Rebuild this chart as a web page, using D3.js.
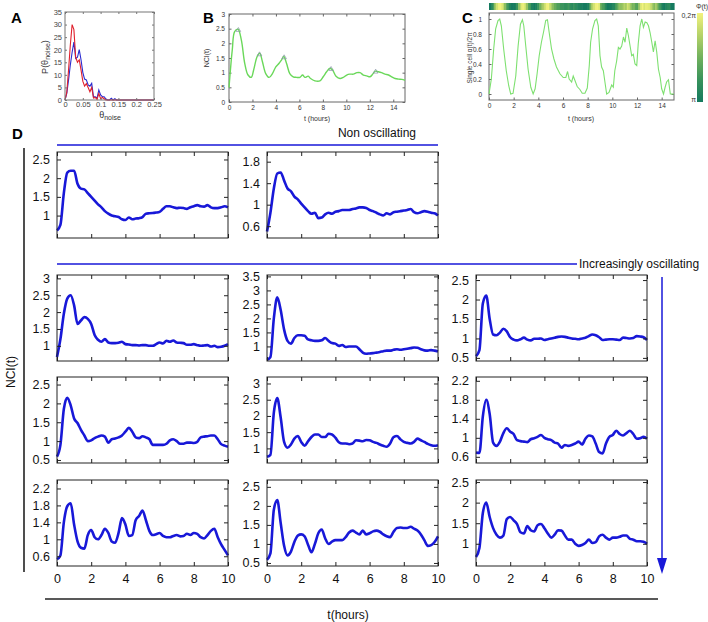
<!DOCTYPE html>
<html>
<head>
<meta charset="utf-8">
<script src="https://cdn.jsdelivr.net/npm/d3@7"></script>
<style>
  body { margin: 0; background: #fff; }
</style>
</head>
<body>
<div id="fig"></div>
<script>
//---------------------------------------------------------------------
// data
//---------------------------------------------------------------------

// A: distribution of theta_noise
var thetaA = [0,0.005,0.01,0.015,0.02,0.025,0.03,0.035,0.04,0.045,
  0.05,0.055,0.06,0.065,0.07,0.075,0.08,0.085,0.09,0.095,
  0.1,0.105,0.11,0.115,0.12,0.125,0.13,0.135,0.14,0.145,0.15,0.25];
var pRed = [0,3,12,22,30,28,17,15,16,12,
  7.5,5.5,6.5,5,3.3,5,0.8,1,0.2,2.6,
  0.5,1,0.5,0,0,0,0,0,0,0,0,0];
var pBlue = [0,2.6,8,14,19,23,16.5,17,20,16,
  11,8.3,8,6,5.5,6.6,1.3,1.3,0.7,4,
  2,1.3,1.3,0.4,0,0,0.7,0,0.5,0,0,0];
var ticksAx = [0,0.05,0.1,0.15,0.2,0.25];
var ticksAy = [0,5,10,15,20,25,30,35];

// B: population NCI(t)
var tB = [0,0.28,0.48,0.77,1.05,1.34,1.62,1.9,2.1,2.4,
  2.62,2.85,3.13,3.42,3.7,3.99,4.27,4.47,4.67,4.9,
  5.18,5.47,5.75,6.04,6.27,6.47,6.75,6.95,7.32,7.75,
  8.03,8.32,8.6,8.83,9.12,9.46,9.74,10.03,10.3,10.6,
  10.9,11.17,11.45,11.74,12.02,12.25,12.45,12.73,13.0,13.3,
  13.6,13.87,14.16,14.45,14.73,15];
var nciB = [0.49,1.78,2.4,2.48,2.12,1.32,0.92,0.84,1.09,1.55,
  1.66,1.37,0.97,0.84,0.97,1.2,1.32,1.43,1.55,1.32,
  0.97,0.86,0.84,0.84,0.92,0.84,0.88,0.8,0.72,0.72,
  0.86,1.03,1.15,1.09,0.88,0.8,0.84,0.92,0.95,0.95,
  1.0,1.0,0.92,0.89,0.86,0.95,1.05,1.03,1.0,0.95,
  0.92,0.86,0.8,0.78,0.77,0.74];
var peakTB = [0.8,2.6,4.7,8.7,12.5];
var peakVB = [2.45,1.62,1.52,1.12,1.03];
var ticksBx = [0,2,4,6,8,10,12,14];
var ticksBy = [0,0.5,1,1.5,2,2.5,3];

// C: single cell phase
var tC = [0,0.19,0.38,0.54,0.73,0.87,1.0,1.19,1.4,1.6,
  1.76,1.95,2.17,2.36,2.55,2.71,2.82,2.98,3.17,3.39,
  3.58,3.74,3.9,4.07,4.25,4.44,4.6,4.74,4.88,5.07,
  5.26,5.47,5.75,6.02,6.23,6.37,6.5,6.7,6.83,6.97,
  7.15,7.37,7.56,7.78,7.97,8.13,8.24,8.4,8.59,8.73,
  8.86,9.0,9.13,9.27,9.4,9.54,9.73,9.95,10.08,10.2,
  10.35,10.49,10.62,10.76,10.9,11.03,11.17,11.3,11.44,11.57,
  11.7,11.84,11.98,12.1,12.25,12.39,12.52,12.66,12.8,12.93,
  13.06,13.2,13.33,13.47,13.6,13.74,13.88,14.0,14.15,14.28,
  14.4,14.55,14.7,15];
var alphaC = [0,0.2,0.6,0.87,0.98,1.0,0.91,0.6,0.31,0.11,
  0,0.01,0.24,0.64,0.93,0.99,0.91,0.64,0.33,0.09,
  0,0.07,0.27,0.51,0.69,0.84,0.98,0.99,0.82,0.6,
  0.47,0.36,0.27,0.22,0.22,0.3,0.2,0.16,0.24,0.18,
  0.1,0.06,0.01,0.01,0.08,0.38,0.69,0.87,0.98,1.0,
  0.91,0.51,0.36,0.31,0.16,0,0.02,0.12,0.09,0.31,
  0.44,0.62,0.6,0.64,0.76,0.69,0.88,0.78,0.64,0.51,
  0.53,0.4,0.38,0.67,0.91,1.0,0.89,0.96,0.95,0.91,
  0.82,0.69,0.56,0.71,0.56,0.33,0.22,0.07,0,0.09,
  0.16,0.19,0,0];
var ticksCy = [0,0.2,0.4,0.6,0.8,1];

// D: NCI(t) for 11 noise levels, sampled every 0.2 h
var tD = [0,0.2,0.4,0.6,0.8,1.0,1.2,1.4,1.6,1.8,
  2.0,2.2,2.4,2.6,2.8,3.0,3.2,3.4,3.6,3.8,
  4.0,4.2,4.4,4.6,4.8,5.0,5.2,5.4,5.6,5.8,
  6.0,6.2,6.4,6.6,6.8,7.0,7.2,7.4,7.6,7.8,
  8.0,8.2,8.4,8.6,8.8,9.0,9.2,9.4,9.6,9.8,10.0];
var ncR1C1 = [0.6,0.75,1.6,2.15,2.2,2.2,1.85,1.72,1.7,1.6,
  1.5,1.4,1.3,1.22,1.12,1.05,1.0,0.98,0.96,0.9,
  0.88,0.95,0.9,0.92,0.93,0.96,1.05,1.06,1.07,1.08,
  1.1,1.18,1.25,1.25,1.22,1.2,1.21,1.2,1.18,1.22,
  1.25,1.28,1.25,1.24,1.28,1.22,1.2,1.2,1.22,1.25,1.22];
var ncR1C2 = [0.5,0.85,1.3,1.58,1.6,1.45,1.3,1.25,1.15,1.1,
  1.02,0.95,0.88,0.83,0.85,0.75,0.76,0.82,0.85,0.83,
  0.87,0.88,0.9,0.9,0.9,0.92,0.93,0.95,0.95,0.94,
  0.9,0.88,0.85,0.82,0.8,0.84,0.82,0.86,0.87,0.88,
  0.89,0.9,0.92,0.86,0.84,0.86,0.88,0.87,0.85,0.84,0.8];
var ncR2C1 = [0.67,1.2,1.95,2.4,2.5,2.2,1.65,1.75,1.85,1.8,
  1.65,1.32,1.18,1.12,1.2,1.1,1.08,1.08,1.09,1.12,
  1.05,1.04,1.02,1.02,1.01,1.02,1.02,1.0,1.0,1.05,
  1.1,1.07,1.15,1.12,1.16,1.1,1.09,1.08,1.03,1.03,
  1.05,1.02,1.0,1.01,1.02,0.98,1.0,0.96,0.97,1.0,1.05];
var ncR2C2 = [0.52,0.62,2.0,2.75,2.3,1.6,1.2,1.1,1.3,1.4,
  1.4,1.38,1.25,1.22,1.2,1.2,1.22,1.3,1.2,1.12,
  1.1,1.02,1.05,0.98,1.0,1.0,1.0,0.9,0.78,0.74,
  0.75,0.76,0.78,0.8,0.83,0.85,0.85,0.88,0.9,0.88,
  0.9,0.92,0.94,0.96,0.95,0.9,0.86,0.85,0.87,0.85,0.82];
var ncR2C3 = [0.54,0.7,1.9,2.1,1.5,1.1,1.08,1.15,1.25,1.18,
  1.03,0.97,0.95,0.98,1.02,0.97,0.95,0.99,0.99,1.0,
  0.96,0.98,1.0,1.02,1.04,1.05,1.04,1.02,1.0,0.99,
  0.98,1.0,1.02,1.06,1.1,1.08,1.03,0.96,0.97,0.98,
  0.98,0.97,0.96,1.02,1.01,1.0,1.01,1.06,1.05,1.03,0.96];
var ncR3C1 = [0.59,0.9,1.85,2.15,1.95,1.6,1.48,1.3,1.15,1.0,
  1.02,1.08,1.12,1.15,1.12,0.96,1.05,1.07,1.1,1.15,
  1.25,1.35,1.25,1.1,1.08,1.13,1.1,1.05,0.9,0.9,
  0.9,0.9,0.93,1.02,1.05,1.0,0.93,0.93,0.96,0.96,
  0.95,0.98,1.1,1.12,1.13,1.15,1.15,1.05,0.92,0.88,0.85];
var ncR3C2 = [0.74,0.8,2.1,2.55,1.95,1.2,1.02,1.12,1.3,1.38,
  1.2,1.08,1.22,1.35,1.43,1.43,1.35,1.35,1.45,1.43,
  1.33,1.19,1.15,1.15,1.13,1.15,1.25,1.24,1.22,1.26,
  1.25,1.2,1.17,1.12,1.08,1.05,1.15,1.35,1.38,1.28,
  1.2,1.17,1.15,1.2,1.3,1.25,1.2,1.14,1.1,1.08,1.1];
var ncR3C3 = [0.69,0.68,1.45,1.8,1.5,0.9,0.83,0.92,1.1,1.2,
  1.13,1.08,0.95,0.93,0.92,0.91,0.97,0.99,1.02,1.06,
  1.0,0.97,0.95,0.9,0.88,0.79,0.85,0.83,0.85,0.88,
  0.92,0.86,0.98,1.05,1.03,0.88,0.7,0.67,0.88,1.02,
  1.06,1.15,1.08,1.05,1.1,1.15,1.08,0.98,0.99,1.02,0.98];
var ncR4C1 = [0.53,0.62,1.4,1.78,1.85,1.35,0.95,0.8,0.78,1.1,
  1.22,1.05,1.0,1.1,1.25,1.15,0.95,0.92,1.15,1.5,
  1.35,1.08,1.1,1.45,1.55,1.68,1.45,1.2,1.1,1.12,
  1.15,1.08,1.05,1.05,1.08,1.1,1.07,1.08,1.13,1.1,
  1.15,1.13,1.05,1.02,1.1,1.2,1.25,1.05,0.88,0.75,0.62];
var ncR4C2 = [0.58,0.75,1.9,2.15,1.55,0.95,0.7,0.8,1.05,1.22,
  1.25,1.2,0.98,0.78,1.0,1.28,1.38,1.15,1.0,1.06,
  1.1,1.1,1.1,1.18,1.3,1.35,1.3,1.25,1.35,1.25,
  1.28,1.33,1.35,1.32,1.25,1.2,1.18,1.32,1.42,1.43,
  1.42,1.42,1.45,1.4,1.35,1.25,1.1,0.95,0.97,1.05,1.2];
var ncR4C3 = [0.68,0.9,1.75,2.0,1.65,1.38,1.22,1.15,1.2,1.6,
  1.65,1.57,1.48,1.28,1.25,1.43,1.33,1.3,1.45,1.48,
  1.38,1.25,1.15,1.22,1.33,1.32,1.2,1.1,1.1,1.0,
  0.95,0.97,1.02,1.1,1.02,1.04,1.18,1.22,1.15,1.1,
  1.15,1.15,1.17,1.2,1.2,1.12,1.1,1.06,1.06,1.05,1.0];

// y ranges and tick labels of each D panel, row by row
var dDomains = [
  [[0.4,2.7],[0.38,1.98]],
  [[0.55,3.1],[0.48,3.55],[0.42,2.63]],
  [[0.42,2.7],[0.55,3.2],[0.47,2.28]],
  [[0.37,2.4],[0.42,2.68],[0.46,2.55]]
];
var dTicks = [
  [[1,1.5,2,2.5],[0.6,1,1.4,1.8]],
  [[1,1.5,2,2.5,3],[1,1.5,2,2.5,3,3.5],[0.5,1,1.5,2,2.5]],
  [[0.5,1,1.5,2,2.5],[1,1.5,2,2.5,3],[0.6,1,1.4,1.8,2.2]],
  [[0.6,1,1.4,1.8,2.2],[0.5,1,1.5,2,2.5],[1,1.5,2,2.5]]
];
var ticksDx = [0,2,4,6,8,10];

//---------------------------------------------------------------------
// drawing
//---------------------------------------------------------------------
var FONT = "'Liberation Sans', Arial, Helvetica, sans-serif";
var BLUE = "#1818d8";
var svg = d3.select("#fig").append("svg")
    .attr("width", 708).attr("height", 622)
    .attr("font-family", FONT);

function boxAxes(sx, sy, xt, yt, o) {
  var L = sx.range()[0], R = sx.range()[1], B = sy.range()[0], T = sy.range()[1];
  var g = svg.append("g");
  var none = function() { return ""; };
  var axes = [
    g.append("g").attr("transform", "translate(0," + B + ")")
      .call(d3.axisBottom(sx).tickValues(xt).tickSize(-o.tk).tickPadding(o.xpad).tickFormat(o.xfmt || none)),
    g.append("g").attr("transform", "translate(0," + T + ")")
      .call(d3.axisTop(sx).tickValues(xt).tickSize(-o.tk).tickFormat(none)),
    g.append("g").attr("transform", "translate(" + L + ",0)")
      .call(d3.axisLeft(sy).tickValues(yt).tickSize(-o.tk).tickPadding(o.ypad).tickFormat(o.yfmt || none)),
    g.append("g").attr("transform", "translate(" + R + ",0)")
      .call(d3.axisRight(sy).tickValues(yt).tickSize(-o.tk).tickFormat(none))
  ];
  axes.forEach(function(a) {
    a.attr("font-family", FONT).attr("font-size", o.fs);
    a.select(".domain").remove();
    a.selectAll(".tick line").attr("stroke", o.col);
    a.selectAll(".tick text").attr("fill", o.tcol);
  });
  g.append("rect").attr("x", L).attr("y", T)
    .attr("width", R - L).attr("height", B - T)
    .attr("fill", "none").attr("stroke", o.col).attr("stroke-width", o.sw || 1);
  return g;
}

function panelLetter(s, x, y) {
  svg.append("text").attr("x", x).attr("y", y)
    .attr("font-size", 15).attr("font-weight", "bold").text(s);
}

// ---------------- A ----------------
var ax = d3.scaleLinear().domain([0, 0.25]).range([65, 154]);
var ay = d3.scaleLinear().domain([0, 35]).range([100, 12]);
var lineA = d3.line().x(function(d) { return ax(d[0]); }).y(function(d) { return ay(d[1]); });
svg.append("path").datum(d3.zip(thetaA, pBlue)).attr("d", lineA)
  .attr("fill", "none").attr("stroke", "#2b2bd0").attr("stroke-width", 1.1);
svg.append("path").datum(d3.zip(thetaA, pRed)).attr("d", lineA)
  .attr("fill", "none").attr("stroke", "#e0202c").attr("stroke-width", 1.1);
boxAxes(ax, ay, ticksAx, ticksAy, {tk: 2, fs: 7.5, xpad: 2, ypad: 3, col: "#777", tcol: "#444",
  xfmt: function(d) { return String(d); }, yfmt: function(d) { return String(d); }});
panelLetter("A", 11, 23);
var aLab = svg.append("text").attr("transform", "translate(48,57) rotate(-90)")
  .attr("text-anchor", "middle").attr("font-size", 9).attr("fill", "#333");
aLab.append("tspan").text("P(\u03b8");
aLab.append("tspan").attr("font-size", 7).attr("dy", 2).text("noise");
aLab.append("tspan").attr("dy", -2).text(")");
var aX = svg.append("text").attr("x", 110).attr("y", 118)
  .attr("text-anchor", "middle").attr("font-size", 9).attr("fill", "#333");
aX.append("tspan").text("\u03b8");
aX.append("tspan").attr("font-size", 7).attr("dy", 2).text("noise");

// ---------------- B ----------------
var bx = d3.scaleLinear().domain([0, 15]).range([229, 405]);
var by = d3.scaleLinear().domain([0, 3]).range([102, 14]);
boxAxes(bx, by, ticksBx, ticksBy, {tk: 2.5, fs: 6.5, xpad: 3, ypad: 4, col: "#666", tcol: "#333",
  xfmt: function(d) { return String(d); }, yfmt: function(d) { return String(d); }});
svg.append("path").datum(d3.zip(tB, nciB))
  .attr("d", d3.line().curve(d3.curveCatmullRom)
    .x(function(d) { return bx(d[0]); }).y(function(d) { return by(d[1]); }))
  .attr("fill", "none").attr("stroke", "#6ad85a").attr("stroke-width", 1.4);
svg.append("g").selectAll("path").data(d3.zip(peakTB, peakVB)).enter().append("path")
  .attr("transform", function(d) { return "translate(" + bx(d[0]) + "," + by(d[1]) + ")"; })
  .attr("d", d3.symbol().type(d3.symbolTriangle).size(9))
  .attr("fill", "none").attr("stroke", "#8a96a8").attr("stroke-width", 0.7);
panelLetter("B", 203, 23);
svg.append("text").attr("transform", "translate(209,58) rotate(-90)")
  .attr("text-anchor", "middle").attr("font-size", 7).attr("fill", "#333").text("NCI(t)");
svg.append("text").attr("x", 317).attr("y", 121)
  .attr("text-anchor", "middle").attr("font-size", 7).attr("fill", "#333").text("t (hours)");

// ---------------- C ----------------
var cx = d3.scaleLinear().domain([0, 15]).range([489, 674]);
var cy = d3.scaleLinear().domain([-0.08, 1.08]).range([100, 13]);
var phaseCol = d3.scaleSequential(d3.interpolateRgbBasis(["#157a5f", "#3f9a5a", "#a2c85e", "#f2f27e"]))
  .domain([0, 1]);
boxAxes(cx, cy, ticksBx, ticksCy, {tk: 2.5, fs: 6.5, xpad: 3, ypad: 7, col: "#666", tcol: "#333",
  xfmt: function(d) { return String(d); }, yfmt: function(d) { return String(d); }});
svg.append("path").datum(d3.zip(tC, alphaC))
  .attr("d", d3.line().x(function(d) { return cx(d[0]); }).y(function(d) { return cy(d[1]); }))
  .attr("fill", "none").attr("stroke", "#7ee070").attr("stroke-width", 1.1);
// phase strip above the plot
var strip = d3.zip(tC, alphaC);
svg.append("g").selectAll("rect").data(strip.slice(0, -1)).enter().append("rect")
  .attr("x", function(d) { return cx(d[0]); })
  .attr("width", function(d, i) { return cx(strip[i + 1][0]) - cx(d[0]) + 0.6; })
  .attr("y", 3).attr("height", 7)
  .attr("fill", function(d) { return phaseCol(d[1]); });
// colour bar
var grad = svg.append("defs").append("linearGradient").attr("id", "phi")
  .attr("x1", 0).attr("y1", 1).attr("x2", 0).attr("y2", 0);
grad.selectAll("stop").data([0, 0.25, 0.5, 0.75, 1]).enter().append("stop")
  .attr("offset", function(d) { return d; })
  .attr("stop-color", function(d) { return phaseCol(d); });
svg.append("rect").attr("x", 697).attr("y", 13).attr("width", 6).attr("height", 89)
  .attr("fill", "url(#phi)");
svg.append("text").attr("x", 702).attr("y", 9).attr("text-anchor", "middle")
  .attr("font-size", 7).attr("fill", "#333").text("\u03a6(t)");
svg.append("text").attr("x", 696).attr("y", 18).attr("text-anchor", "end")
  .attr("font-size", 7).attr("fill", "#333").text("0,2\u03c0");
svg.append("text").attr("x", 696).attr("y", 102).attr("text-anchor", "end")
  .attr("font-size", 7).attr("fill", "#333").text("\u03c0");
panelLetter("C", 462, 23);
svg.append("text").attr("transform", "translate(472,58) rotate(-90)")
  .attr("text-anchor", "middle").attr("font-size", 6.5).attr("fill", "#333")
  .text("Single cell \u03b1(t)/2\u03c0");
svg.append("text").attr("x", 581).attr("y", 121)
  .attr("text-anchor", "middle").attr("font-size", 7).attr("fill", "#333").text("t (hours)");

// ---------------- D ----------------
var dSeries = [
  [ncR1C1, ncR1C2],
  [ncR2C1, ncR2C2, ncR2C3],
  [ncR3C1, ncR3C2, ncR3C3],
  [ncR4C1, ncR4C2, ncR4C3]
];
var colX = [57, 267, 476], pw = 171, ph = 86;
var rowY = [152, 275, 377, 480];

dSeries.forEach(function(row, r) {
  row.forEach(function(vals, c) {
    var sx = d3.scaleLinear().domain([0, 10]).range([colX[c], colX[c] + pw]);
    var sy = d3.scaleLinear().domain(dDomains[r][c]).range([rowY[r] + ph, rowY[r]]);
    svg.append("path").datum(d3.zip(tD, vals))
      .attr("d", d3.line().curve(d3.curveMonotoneX)
        .x(function(d) { return sx(d[0]); }).y(function(d) { return sy(d[1]); }))
      .attr("fill", "none").attr("stroke", BLUE).attr("stroke-width", 2.6)
      .attr("stroke-linejoin", "round");
    boxAxes(sx, sy, ticksDx, dTicks[r][c], {tk: 4, fs: 12.5, xpad: 8, ypad: 7, col: "#222", tcol: "#111",
      xfmt: r == 3 ? function(d) { return String(d); } : null,
      yfmt: function(d) { return String(d); }});
  });
});

panelLetter("D", 12, 139);
svg.append("text").attr("x", 416).attr("y", 137).attr("text-anchor", "end")
  .attr("font-size", 12).attr("fill", "#111").text("Non oscillating");
svg.append("line").attr("x1", 57).attr("x2", 438).attr("y1", 145).attr("y2", 145)
  .attr("stroke", BLUE).attr("stroke-width", 1.5);
svg.append("line").attr("x1", 57).attr("x2", 577).attr("y1", 264).attr("y2", 264)
  .attr("stroke", BLUE).attr("stroke-width", 1.5);
svg.append("text").attr("x", 579).attr("y", 268)
  .attr("font-size", 12).attr("fill", "#111").text("Increasingly oscillating");

// blue arrow on the right
svg.append("line").attr("x1", 662).attr("x2", 662).attr("y1", 277).attr("y2", 560)
  .attr("stroke", BLUE).attr("stroke-width", 1.5);
svg.append("path").attr("d", "M657,558 L667,558 L662,574 z").attr("fill", BLUE);

// frame lines and shared labels
svg.append("line").attr("x1", 24).attr("x2", 24).attr("y1", 148).attr("y2", 572)
  .attr("stroke", "#222").attr("stroke-width", 1.6);
svg.append("line").attr("x1", 45).attr("x2", 658).attr("y1", 599).attr("y2", 599)
  .attr("stroke", "#222").attr("stroke-width", 1.6);
svg.append("text").attr("transform", "translate(15,372) rotate(-90)")
  .attr("text-anchor", "middle").attr("font-size", 12).attr("fill", "#111").text("NCI(t)");
svg.append("text").attr("x", 348).attr("y", 619).attr("text-anchor", "middle")
  .attr("font-size", 12).attr("fill", "#111").text("t(hours)");
</script>
</body>
</html>
